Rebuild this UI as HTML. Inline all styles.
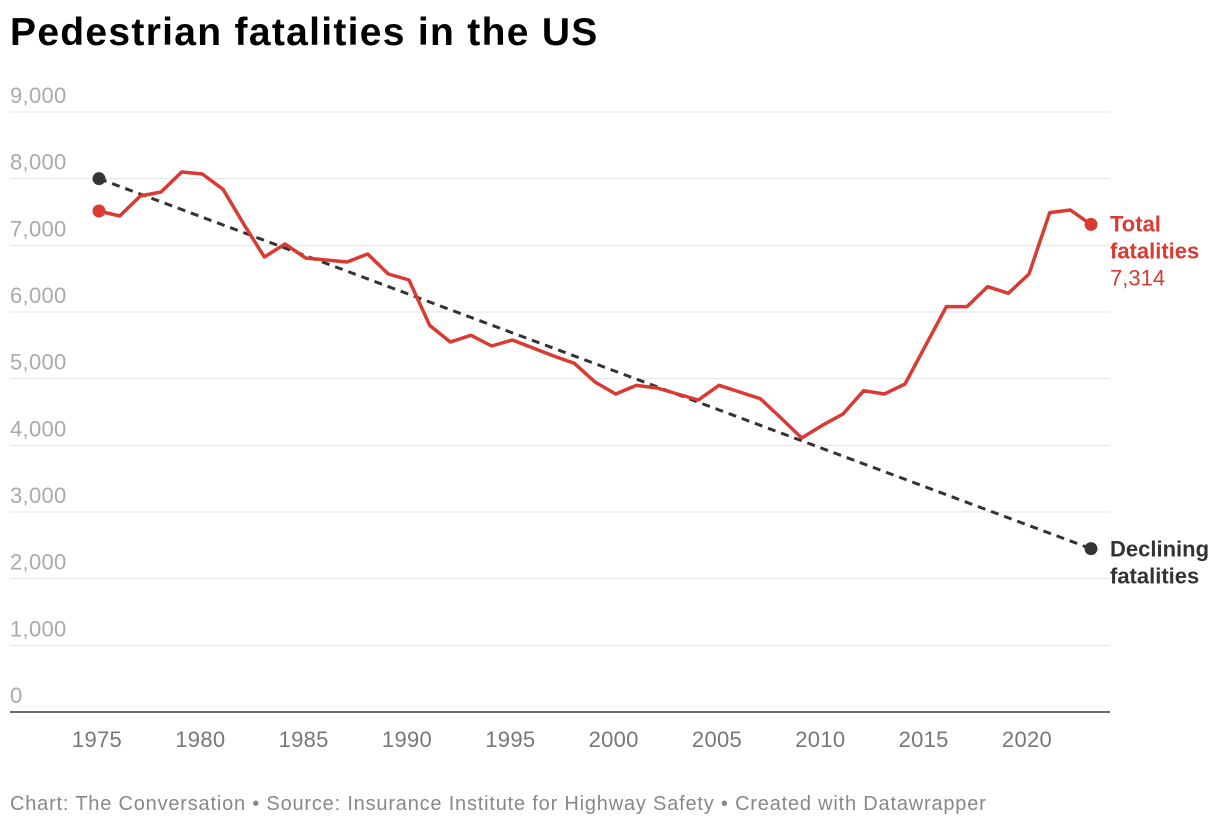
<!DOCTYPE html>
<html><head><meta charset="utf-8"><style>
body{margin:0;background:#fff;font-family:"Liberation Sans",Arial,sans-serif;}
#c{position:relative;width:1220px;height:828px;overflow:hidden;}
h1{position:absolute;left:10px;top:11px;margin:0;font-size:39px;font-weight:bold;color:#000;letter-spacing:1.3px;}
.foot{position:absolute;left:10px;top:793px;font-size:20px;color:#888;letter-spacing:0.8px;}
</style></head><body>
<div id="c">
<h1>Pedestrian fatalities in the US</h1>
<svg id="s" width="1220" height="828" style="position:absolute;left:0;top:0"></svg>
<div class="foot">Chart: The Conversation • Source: Insurance Institute for Highway Safety • Created with Datawrapper</div>
</div>
<script>
const years=[1975,1976,1977,1978,1979,1980,1981,1982,1983,1984,1985,1986,1987,1988,1989,1990,1991,1992,1993,1994,1995,1996,1997,1998,1999,2000,2001,2002,2003,2004,2005,2006,2007,2008,2009,2010,2011,2012,2013,2014,2015,2016,2017,2018,2019,2020,2021,2022,2023];
const fatalities=[7515,7440,7740,7800,8100,8070,7840,7320,6825,7020,6810,6780,6750,6870,6570,6480,5800,5550,5650,5490,5580,5460,5340,5230,4950,4770,4900,4860,4770,4680,4900,4800,4700,4410,4110,4300,4470,4820,4770,4920,5500,6080,6080,6380,6280,6570,7490,7530,7314];
const trendYears=[1975,2023];
const trendValues=[8000,2450];
const yTicks=[0,1000,2000,3000,4000,5000,6000,7000,8000,9000];
const xTicks=[1975,1980,1985,1990,1995,2000,2005,2010,2015,2020];
const NS="http://www.w3.org/2000/svg";
const svg=document.getElementById('s');
const x=v=>99+(v-1975)*(1091-99)/48;
const y=v=>712-v*(600/9000);
function mk(t,a,p){const e=document.createElementNS(NS,t);for(const k in a)e.setAttribute(k,a[k]);(p||svg).appendChild(e);return e;}
yTicks.forEach(v=>{
 if(v>0){const l=mk('line',{x1:10,x2:1110,y1:y(v),y2:y(v),stroke:'#e2e2e2','stroke-width':1});
 
 }
 const t=mk('text',{x:10,y:y(v)-9,fill:'#aaa','font-size':22,'letter-spacing':0.3});
 t.textContent=v.toLocaleString('en-US');
 
 
});
const base=mk('line',{x1:10,x2:1110,y1:712,y2:712,stroke:'#333','stroke-width':1.5});


xTicks.forEach(v=>{
 const t=mk('text',{x:x(v)-2,y:747,fill:'#777','font-size':22,'text-anchor':'middle','letter-spacing':0.3});
 t.textContent=v;
 
 
});
const tr=mk('path',{d:'M'+trendYears.map((v,i)=>x(v)+','+y(trendValues[i])).join('L'),fill:'none',stroke:'#333','stroke-width':3,'stroke-dasharray':'8,6'});


trendYears.forEach((v,i)=>{const c=mk('circle',{cx:x(v),cy:y(trendValues[i]),r:6.5,fill:'#333'});
 
 });
const ln=mk('path',{d:'M'+years.map((v,i)=>x(v)+','+y(fatalities[i])).join('L'),fill:'none',stroke:'#d93a32','stroke-width':3.5,'stroke-linejoin':'round'});


[0,years.length-1].forEach(i=>{const c=mk('circle',{cx:x(years[i]),cy:y(fatalities[i]),r:6.5,fill:'#d93a32'});
 
 });
function lab(lines,yy,color,name,bold){
 const t=mk('text',{x:1110,y:yy,fill:color,'font-size':22});
 
 
 lines.forEach((s,i)=>{const ts=mk('tspan',{x:1110,dy:i?27:0,'font-weight':bold[i]?'bold':'normal'},t);ts.textContent=s;});
}
const last=fatalities[fatalities.length-1];
lab(['Total','fatalities',last.toLocaleString('en-US')],y(last)+7,'#d93a32','total-fatalities-label',[1,1,0]);
lab(['Declining','fatalities'],y(trendValues[1])+8,'#333','declining-fatalities-label',[1,1]);
</script>
</body></html>
